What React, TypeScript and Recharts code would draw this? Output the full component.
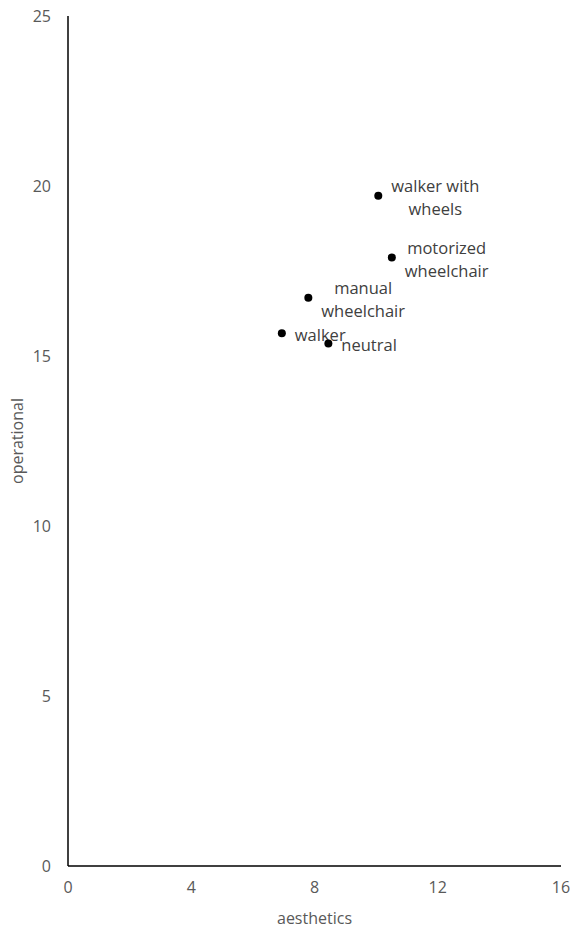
import React from 'react';
import { ScatterChart, Scatter, XAxis, YAxis, Label } from 'recharts';

const labelLines: string[][] = [
  ['walker with', 'wheels'],
  ['motorized', 'wheelchair'],
  ['manual', 'wheelchair'],
  ['walker'],
  ['neutral'],
];
const aestheticsValues = [10.07, 10.51, 7.8, 6.94, 8.45];
const operationalValues = [19.71, 17.9, 16.71, 15.67, 15.37];
const xTicks = [0, 4, 8, 12, 16];
const yTicks = [0, 5, 10, 15, 20, 25];

const data = labelLines.map((lines, i) => ({
  x: aestheticsValues[i],
  y: operationalValues[i],
  lines,
}));

const FONT = '"Open Sans", "Noto Sans", sans-serif';
const LABEL_SIZE = 16.5;
const AXIS_SIZE = 16;

let ctx: CanvasRenderingContext2D | null = null;
const measure = (s: string) => {
  if (!ctx) ctx = document.createElement('canvas').getContext('2d');
  if (!ctx) return s.length * 8.5;
  ctx.font = `${LABEL_SIZE}px ${FONT}`;
  return ctx.measureText(s).width;
};

const PointShape = (props: any) => {
  const { cx, cy, payload } = props;
  const lines: string[] = payload.lines;
  const lh = 23;
  const maxW = Math.max(...lines.map(measure));
  const centerX = cx + 13 + maxW / 2;
  const startY = cy + 1 - ((lines.length - 1) * lh) / 2;
  return (
    <g>
      <circle cx={cx} cy={cy} r={4} fill="#000" />
      <text textAnchor="middle" fill="#404040" fontSize={LABEL_SIZE} fontFamily={FONT} dominantBaseline="central">
        {lines.map((l, i) => (
          <tspan key={i} x={centerX} y={startY + i * lh}>
            {l}
          </tspan>
        ))}
      </text>
    </g>
  );
};

const YTitle = (props: any) => {
  const vb = props.viewBox || { x: 0, y: 16, width: 68, height: 850 };
  const cx = 17;
  const cy = vb.y + vb.height / 2;
  return (
    <text
      x={cx}
      y={cy}
      transform={`rotate(-90, ${cx}, ${cy})`}
      textAnchor="middle"
      dominantBaseline="central"
      fill="#595959"
      fontSize={AXIS_SIZE}
      fontFamily={FONT}
    >
      operational
    </text>
  );
};

export default function App() {
  return (
    <div style={{ position: 'absolute', left: 0, top: 0 }}>
      <ScatterChart width={572} height={933} margin={{ top: 16, right: 11, bottom: 0, left: 0 }}>
        <XAxis
          type="number"
          dataKey="x"
          domain={[0, 16]}
          ticks={xTicks}
          axisLine={{ stroke: '#000', strokeWidth: 1.5 }}
          tickLine={false}
          tickSize={0}
          tickMargin={16}
          height={67}
          tick={{ fill: '#595959', fontSize: AXIS_SIZE, fontFamily: FONT }}
        >
          <Label value="aesthetics" position="insideBottom" offset={9} fill="#595959" fontSize={AXIS_SIZE} fontFamily={FONT} />
        </XAxis>
        <YAxis
          type="number"
          dataKey="y"
          domain={[0, 25]}
          ticks={yTicks}
          axisLine={{ stroke: '#000', strokeWidth: 1.5 }}
          tickLine={false}
          tickSize={0}
          tickMargin={17}
          width={68}
          tick={{ fill: '#595959', fontSize: AXIS_SIZE, fontFamily: FONT }}
        >
          <Label content={YTitle} />
        </YAxis>
        <Scatter data={data} shape={PointShape} isAnimationActive={false} />
      </ScatterChart>
    </div>
  );
}
